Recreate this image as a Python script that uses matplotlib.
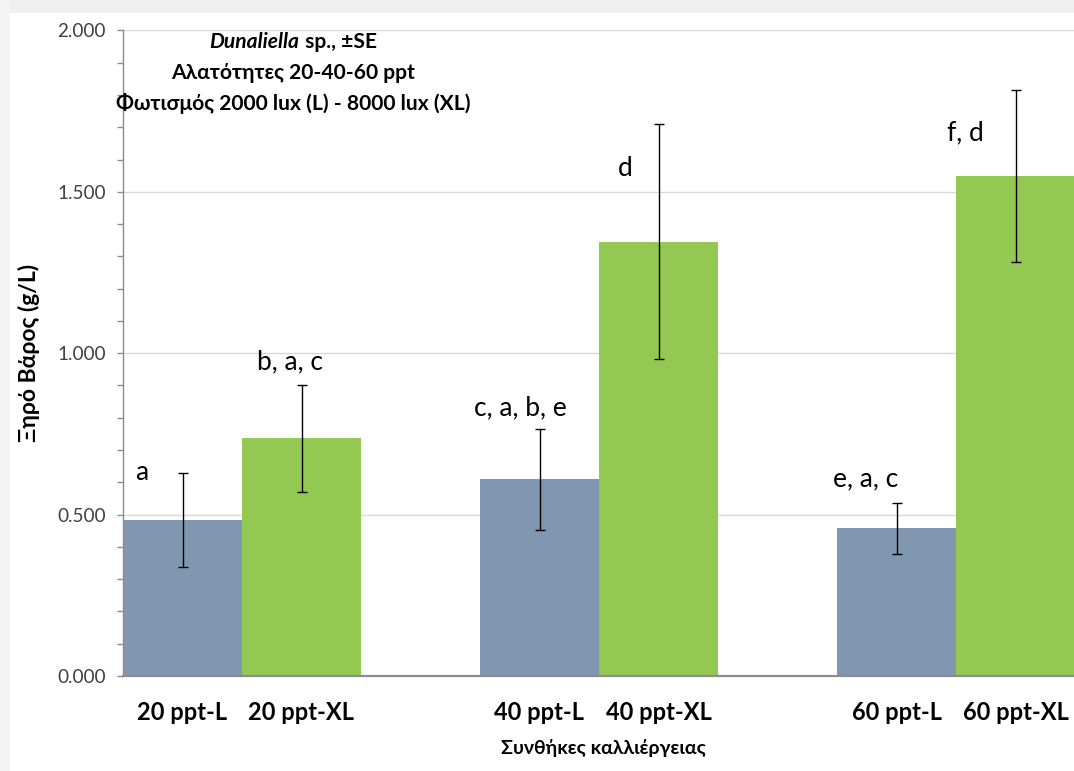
import matplotlib
matplotlib.use("Agg")
import matplotlib.pyplot as plt
from matplotlib.ticker import MultipleLocator, FormatStrFormatter
from matplotlib.patches import Rectangle

plt.rcParams['font.family'] = ['Lato', 'Open Sans', 'DejaVu Sans']

# ---- data ----
categories = ["20 ppt-L", "20 ppt-XL", "", "40 ppt-L", "40 ppt-XL", "", "60 ppt-L", "60 ppt-XL"]
values = [0.483, 0.736, None, 0.609, 1.346, None, 0.457, 1.548]
errors = [0.145, 0.165, None, 0.157, 0.365, None, 0.078, 0.266]
series_of = ["L", "XL", None, "L", "XL", None, "L", "XL"]
letters = ["a", "b, a, c", "c, a, b, e", "d", "e, a, c", "f, d"]
letter_pos = [(-0.34, 0.607), (0.90, 0.951), (2.84, 0.809), (3.72, 1.550), (5.74, 0.589), (6.58, 1.661)]
yticks_major = [0.0, 0.5, 1.0, 1.5, 2.0]

colors = {"L": "#8196b0", "XL": "#93c852"}

W, H = 1074, 771
fig = plt.figure(figsize=(W / 100, H / 100), dpi=100)
fig.patch.set_facecolor("white")

# light frame of the screenshot
fig.add_artist(Rectangle((0, 1 - 13 / H), 1, 13 / H, transform=fig.transFigure,
                         facecolor="#efefef", edgecolor="none", zorder=0))
fig.add_artist(Rectangle((0, 0), 10 / W, 1, transform=fig.transFigure,
                         facecolor="#f4f4f4", edgecolor="none", zorder=0))

ax_left, ax_right = 123 / W, 1075 / W
ax_bottom, ax_top = (H - 676) / H, (H - 30.4) / H
ax = fig.add_axes([ax_left, ax_bottom, ax_right - ax_left, ax_top - ax_bottom])
ax.set_facecolor("none")

pos = [i for i, v in enumerate(values) if v is not None]
vals = [values[i] for i in pos]
errs = [errors[i] for i in pos]
cols = [colors[series_of[i]] for i in pos]
ax.bar(pos, vals, width=1.0, color=cols, edgecolor="none", zorder=2)
ax.errorbar(pos, vals, yerr=errs, fmt="none", ecolor="black", elinewidth=1.0,
            capsize=3.5, capthick=1.0, zorder=3)

ax.set_xlim(-0.5, len(categories) - 0.5)
ax.set_ylim(0, 2.0)
ax.yaxis.set_major_locator(MultipleLocator(0.5))
ax.yaxis.set_minor_locator(MultipleLocator(0.1))
ax.yaxis.set_major_formatter(FormatStrFormatter("%.3f"))
ax.set_yticks(yticks_major)
ax.grid(axis="y", which="major", color="#d9d9d9", linewidth=1.0, zorder=0)
ax.set_axisbelow(True)

for s in ["top", "right"]:
    ax.spines[s].set_visible(False)
ax.spines["left"].set_color("#8c8c8c")
ax.spines["left"].set_linewidth(1.0)
ax.spines["bottom"].set_color("#8c8c8c")
ax.spines["bottom"].set_linewidth(1.6)
ax.spines["bottom"].set_zorder(4)

ax.tick_params(axis="y", which="major", direction="out", length=4.5, width=1.0,
               color="#8c8c8c", labelsize=13.6, labelcolor="#404040", pad=8)
ax.tick_params(axis="y", which="minor", direction="out", length=4.0, width=1.0,
               color="#8c8c8c")

ax.set_xticks(pos)
ax.set_xticklabels([categories[i] for i in pos], fontsize=17, fontweight="bold")
ax.tick_params(axis="x", length=0, pad=18, labelcolor="black")

ax.set_ylabel("Ξηρό Βάρος (g/L)", fontsize=16.5, fontweight="bold")
ax.yaxis.set_label_coords(-(123 - 40) / 952, 0.5)
ax.set_xlabel("Συνθήκες καλλιέργειας", fontsize=14, fontweight="bold")
ax.xaxis.set_label_coords(0.505, -(748 - 676) / (676 - 30.4))
ax.xaxis.label.set_va("center")

for txt, (x, y) in zip(letters, letter_pos):
    ax.text(x, y, txt, ha="center", va="baseline", fontsize=19, color="black", zorder=5)

# title block
cx = 293 / W
tfs = 15.1
fig.text(cx, 1 - 73 / H, "Αλατότητες 20-40-60 ppt", ha="center", va="center",
         fontsize=tfs, fontweight="bold")
fig.text(cx, 1 - 104 / H, "Φωτισμός 2000 lux (L) - 8000 lux (XL)", ha="center", va="center",
         fontsize=tfs, fontweight="bold")
y1 = 1 - 42 / H
t1 = fig.text(cx, y1, "Dunaliella", ha="left", va="center", fontsize=tfs,
              fontweight="bold", style="italic")
t2 = fig.text(cx, y1, " sp., ±SE", ha="left", va="center", fontsize=tfs, fontweight="bold")
fig.canvas.draw()
r = fig.canvas.get_renderer()
w1 = t1.get_window_extent(r).width
w2 = t2.get_window_extent(r).width
start = cx * W - (w1 + w2) / 2
t1.set_x(start / W)
t2.set_x((start + w1) / W)

fig.savefig("out.png", dpi=100)
